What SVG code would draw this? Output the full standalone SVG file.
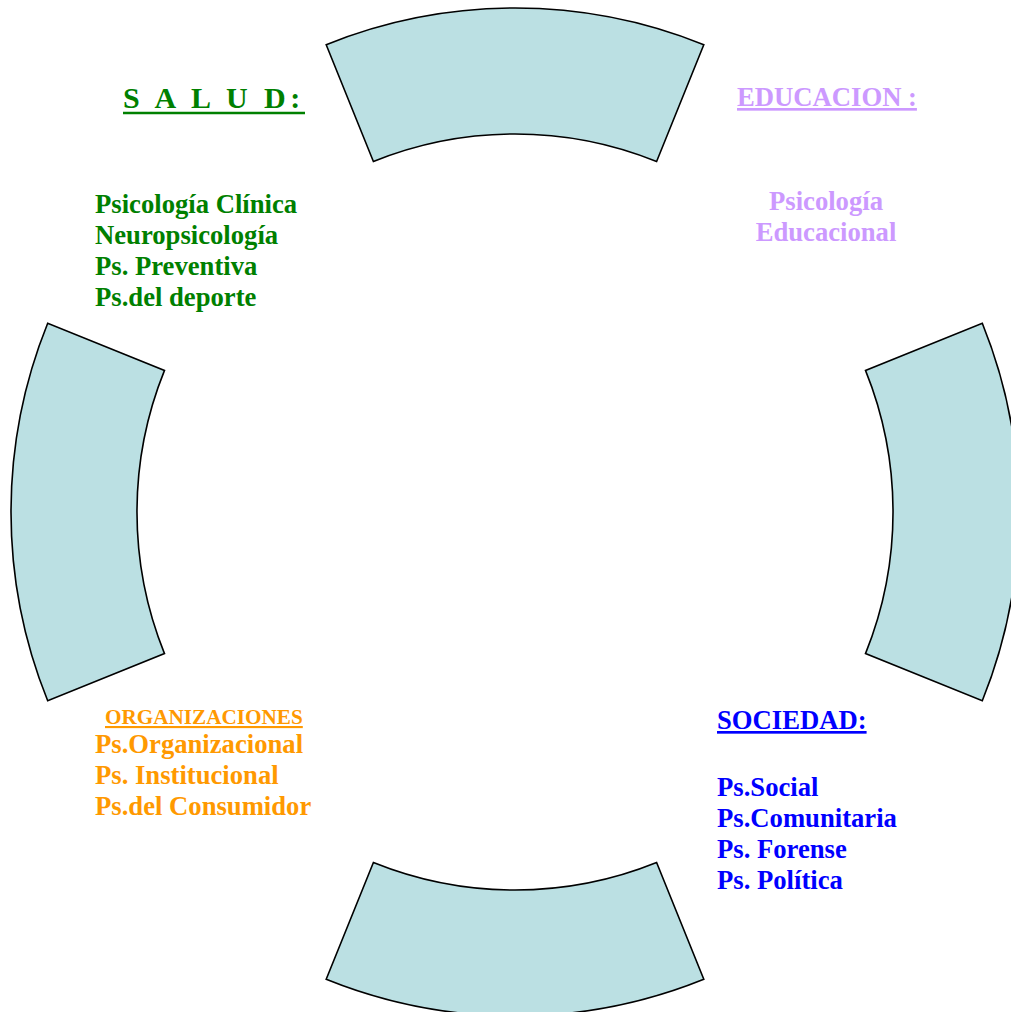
<svg xmlns="http://www.w3.org/2000/svg" width="1011" height="1012" viewBox="0 0 1011 1012">
  <style>
    .seg { fill: #BBE0E3; stroke: #000000; stroke-width: 1.6; stroke-linejoin: miter; }
    .t { font-family: "Liberation Serif", "Times New Roman", serif; font-weight: bold; font-size: 26.67px; }
    .u { text-decoration: underline; }
    .green { fill: #008000; }
    .purple { fill: #CC99FF; }
    .orange { fill: #FF9900; }
    .blue { fill: #0000FF; }
  </style>
  <defs>
    <clipPath id="saludClip">
      <rect x="0" y="150" width="330" height="172"/>
    </clipPath>
  </defs>
  <rect x="0" y="0" width="1011" height="1012" fill="#FFFFFF"/>

  <g id="segment-top">
    <path class="seg" d="M 326.2 44.7 A 504 504 0 0 1 703.8 44.7 L 656.6 161.5 A 378 378 0 0 0 373.4 161.5 Z"/>
  </g>
  <g id="segment-right">
    <path class="seg" d="M 982.3 323.2 A 504 504 0 0 1 982.3 700.8 L 865.5 653.6 A 378 378 0 0 0 865.5 370.4 Z"/>
  </g>
  <g id="segment-bottom">
    <path class="seg" d="M 703.8 979.3 A 504 504 0 0 1 326.2 979.3 L 373.4 862.5 A 378 378 0 0 0 656.6 862.5 Z"/>
  </g>
  <g id="segment-left">
    <path class="seg" d="M 47.7 700.8 A 504 504 0 0 1 47.7 323.2 L 164.5 370.4 A 378 378 0 0 0 164.5 653.6 Z"/>
  </g>

  <g id="salud">
    <text class="t green" x="123" y="108" style="font-size:30px; letter-spacing:4.5px">S A L U D:</text>
    <line x1="123" y1="113" x2="305" y2="113" stroke="#008000" stroke-width="2.4"/>
    <g clip-path="url(#saludClip)">
      <text class="t green" x="95" y="213">Psicología Clínica</text>
      <text class="t green" x="95" y="244">Neuropsicología</text>
      <text class="t green" x="95" y="275">Ps. Preventiva</text>
      <text class="t green" x="95" y="306">Ps.del deporte</text>
    </g>
  </g>

  <g id="educacion">
    <text class="t u purple" x="737" y="106">EDUCACION :</text>
    <text class="t purple" x="826" y="210" text-anchor="middle">Psicología</text>
    <text class="t purple" x="826" y="241" text-anchor="middle">Educacional</text>
  </g>

  <g id="organizaciones">
    <text class="t u orange" x="105" y="724" style="font-size:21.2px">ORGANIZACIONES</text>
    <text class="t orange" x="95" y="753">Ps.Organizacional</text>
    <text class="t orange" x="95" y="784">Ps. Institucional</text>
    <text class="t orange" x="95" y="815">Ps.del Consumidor</text>
  </g>

  <g id="sociedad">
    <text class="t u blue" x="717" y="729">SOCIEDAD:</text>
    <text class="t blue" x="717" y="796">Ps.Social</text>
    <text class="t blue" x="717" y="827">Ps.Comunitaria</text>
    <text class="t blue" x="717" y="858">Ps. Forense</text>
    <text class="t blue" x="717" y="889">Ps. Política</text>
  </g>
</svg>
